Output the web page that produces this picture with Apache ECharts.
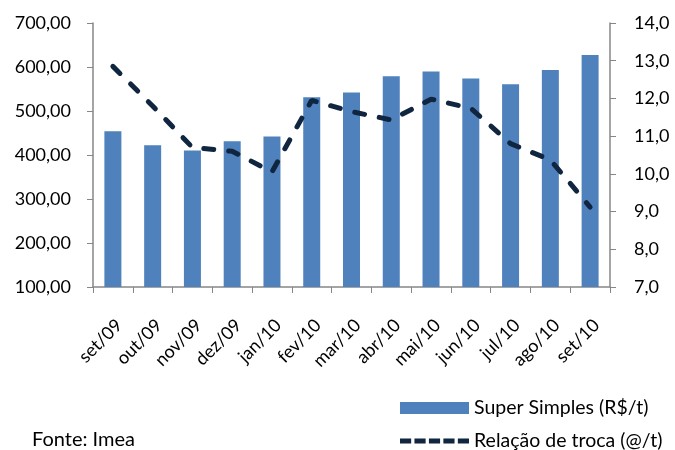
<!DOCTYPE html>
<html>
<head>
<meta charset="utf-8">
<script src="https://cdn.jsdelivr.net/npm/echarts@6/dist/echarts.min.js"></script>
<style>
  html, body, #main { margin: 0; padding: 0; width: 675px; height: 450px; overflow: hidden; background: #fff; }
</style>
</head>
<body>
<div id="main"></div>
<script>
// dados
const meses = ["set/09", "out/09", "nov/09", "dez/09", "jan/10", "fev/10", "mar/10",
  "abr/10", "mai/10", "jun/10", "jul/10", "ago/10", "set/10"];
const superSimples = [454, 422, 410, 431, 442, 531, 542, 579, 590, 574, 561, 593, 627];
const relacaoTroca = [12.85, 11.8, 10.7, 10.6, 10.05, 11.95, 11.65, 11.43, 11.98, 11.74, 10.8, 10.37, 9.12];

const fonte = "Lato";
const corTexto = "#000";
const corLinha = "#10253F";
// ícone tracejado da legenda (5 traços)
const iconeTracejado = "path://M0,0h11v5h-11z M14.25,0h11v5h-11z M28.5,0h11v5h-11z M42.75,0h11v5h-11z M57,0h11v5h-11z";

const myChart = echarts.init(document.getElementById("main"));
const option = {
  animation: false,
  textStyle: { fontFamily: fonte },
  grid: { left: 93, right: 65, top: 23, bottom: 163, containLabel: false },
  legend: [
    {
      left: 400,
      top: 398,
      padding: 0,
      itemWidth: 69,
      itemHeight: 12,
      itemGap: 6,
      textStyle: { fontFamily: fonte, fontSize: 19.5, color: corTexto },
      data: [{ name: "Super Simples (R$/t)", icon: "rect" }],
    },
    {
      left: 400,
      top: 431,
      padding: 0,
      itemWidth: 69,
      itemHeight: 12,
      textStyle: { fontFamily: fonte, fontSize: 19.5, color: corTexto },
      data: [{ name: "Relação de troca (@/t)", icon: iconeTracejado, itemStyle: { color: corLinha } }],
    },
  ],
  graphic: [
    {
      type: "text",
      left: 32,
      top: 430,
      style: { text: "Fonte: Imea", font: "20px " + fonte, fill: corTexto },
    },
  ],
  xAxis: {
    type: "category",
    data: meses,
    boundaryGap: true,
    axisLine: { lineStyle: { color: "#868686", width: 1.5 } },
    axisTick: { show: true, length: 6, lineStyle: { color: "#868686" } },
    axisLabel: {
      rotate: 45,
      interval: 0,
      margin: 29,
      align: "right",
      verticalAlign: "top",
      fontSize: 18,
      color: corTexto,
      fontFamily: fonte,
    },
  },
  yAxis: [
    {
      type: "value",
      min: 100,
      max: 700,
      interval: 100,
      splitLine: { show: false },
      axisLine: { show: true, lineStyle: { color: "#868686", width: 1.5 } },
      axisTick: { show: true, length: 6, lineStyle: { color: "#868686" } },
      axisLabel: {
        fontSize: 18,
        color: corTexto,
        margin: 22,
        fontFamily: fonte,
        formatter: (v) => v.toFixed(2).replace(".", ","),
      },
    },
    {
      type: "value",
      min: 7,
      max: 14,
      interval: 1,
      position: "right",
      splitLine: { show: false },
      axisLine: { show: true, lineStyle: { color: "#868686", width: 1.5 } },
      axisTick: { show: true, length: 6, lineStyle: { color: "#868686" } },
      axisLabel: {
        fontSize: 18,
        color: corTexto,
        margin: 24,
        fontFamily: fonte,
        formatter: (v) => v.toFixed(1).replace(".", ","),
      },
    },
  ],
  series: [
    {
      name: "Super Simples (R$/t)",
      type: "bar",
      yAxisIndex: 0,
      barWidth: 17,
      itemStyle: { color: "#4F81BD" },
      data: superSimples,
    },
    {
      name: "Relação de troca (@/t)",
      type: "line",
      yAxisIndex: 1,
      symbol: "none",
      lineStyle: { color: corLinha, width: 5, type: [10, 15], cap: "round" },
      itemStyle: { color: corLinha },
      data: relacaoTroca,
    },
  ],
};
myChart.setOption(option);
</script>
</body>
</html>
